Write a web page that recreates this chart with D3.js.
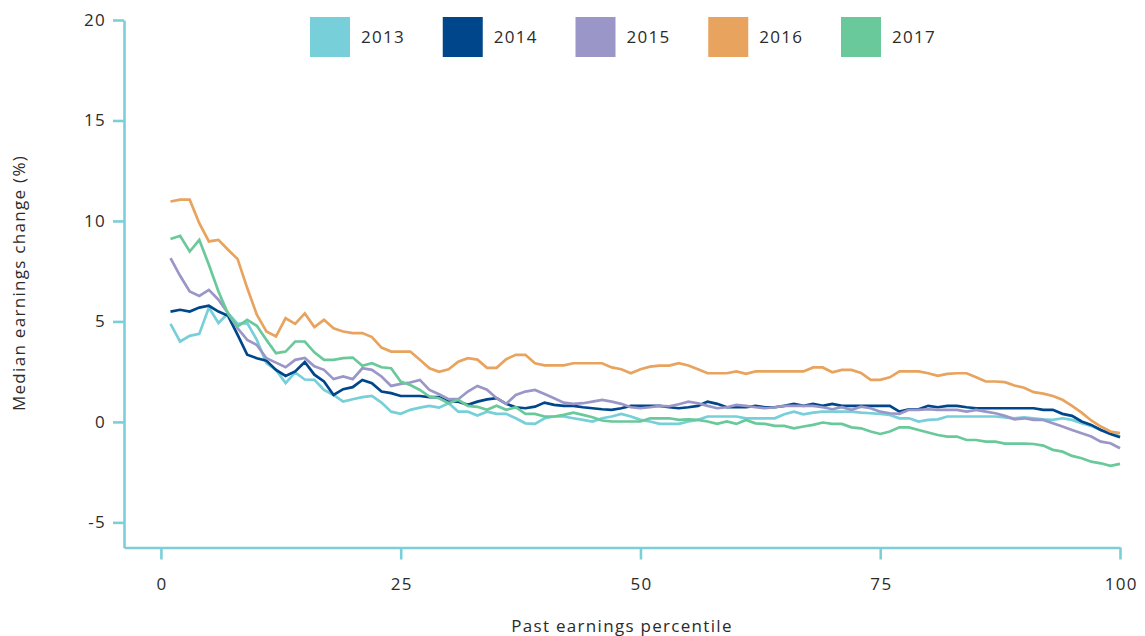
<!DOCTYPE html>
<html>
<head>
<meta charset="utf-8">
<script src="https://cdn.jsdelivr.net/npm/d3@7"></script>
<style>
  html, body { margin: 0; padding: 0; background: #ffffff; }
  svg { display: block; font-family: "Open Sans", "Noto Sans", sans-serif; }
  svg text { letter-spacing: 1.3px; }
</style>
</head>
<body>
<svg id="chart" width="1145" height="636"></svg>
<script>
// Past earnings percentile (x) for every series
const percentiles = [
  1,2,3,4,5,6,7,8,9,10,11,12,13,14,15,16,17,18,19,20,
  21,22,23,24,25,26,27,28,29,30,31,32,33,34,35,36,37,38,39,40,
  41,42,43,44,45,46,47,48,49,50,51,52,53,54,55,56,57,58,59,60,
  61,62,63,64,65,66,67,68,69,70,71,72,73,74,75,76,77,78,79,80,
  81,82,83,84,85,86,87,88,89,90,91,92,93,94,95,96,97,98,99,100
];

const years = ["2013", "2014", "2015", "2016", "2017"];

// Median earnings change (%) by past earnings percentile
const y2013 = [
  4.88,4.00,4.28,4.38,5.69,4.92,5.41,4.88,4.92,4.08,2.92,2.59,1.93,2.46,2.11,2.09,1.59,1.34,1.01,1.13,
  1.23,1.29,0.96,0.51,0.40,0.60,0.71,0.80,0.71,0.93,0.51,0.51,0.32,0.51,0.40,0.40,0.18,-0.07,-0.10,0.18,
  0.27,0.27,0.18,0.10,0.02,0.18,0.27,0.40,0.27,0.10,0.02,-0.10,-0.10,-0.10,0.02,0.10,0.27,0.27,0.27,0.27,
  0.18,0.18,0.18,0.18,0.38,0.51,0.38,0.46,0.51,0.51,0.51,0.51,0.46,0.43,0.40,0.35,0.18,0.18,0.02,0.10,
  0.13,0.27,0.27,0.27,0.27,0.27,0.27,0.23,0.18,0.23,0.18,0.13,0.10,0.18,0.10,-0.07,-0.20,-0.40,-0.53,-0.73
];
const y2014 = [
  5.49,5.58,5.49,5.69,5.78,5.49,5.28,4.33,3.34,3.17,3.05,2.59,2.29,2.51,2.98,2.35,2.01,1.34,1.63,1.73,
  2.09,1.93,1.51,1.43,1.29,1.29,1.29,1.23,1.23,1.01,1.01,0.85,1.01,1.12,1.18,0.90,0.73,0.68,0.76,0.96,
  0.85,0.80,0.80,0.73,0.68,0.63,0.60,0.68,0.80,0.80,0.80,0.80,0.73,0.68,0.73,0.80,1.01,0.90,0.73,0.73,
  0.73,0.80,0.73,0.73,0.80,0.90,0.80,0.90,0.80,0.90,0.80,0.80,0.80,0.80,0.80,0.80,0.51,0.63,0.63,0.80,
  0.73,0.80,0.80,0.73,0.68,0.68,0.68,0.68,0.68,0.68,0.68,0.60,0.60,0.40,0.30,0.02,-0.15,-0.40,-0.60,-0.76
];
const y2015 = [
  8.15,7.27,6.49,6.27,6.57,6.08,5.41,4.66,4.08,3.83,3.17,2.95,2.72,3.09,3.18,2.77,2.59,2.13,2.26,2.13,
  2.67,2.59,2.26,1.79,1.89,1.96,2.09,1.59,1.38,1.13,1.13,1.51,1.79,1.60,1.18,0.90,1.34,1.51,1.59,1.39,
  1.18,0.96,0.90,0.93,1.01,1.10,1.01,0.90,0.73,0.68,0.73,0.80,0.78,0.88,1.01,0.93,0.80,0.68,0.73,0.85,
  0.80,0.73,0.68,0.73,0.80,0.80,0.80,0.80,0.73,0.63,0.73,0.60,0.76,0.68,0.51,0.43,0.40,0.60,0.60,0.63,
  0.60,0.60,0.60,0.51,0.60,0.51,0.43,0.30,0.13,0.18,0.10,0.10,-0.07,-0.23,-0.40,-0.56,-0.73,-0.98,-1.06,-1.31
];
const y2016 = [
  10.97,11.06,11.06,9.89,8.98,9.06,8.57,8.10,6.66,5.33,4.50,4.25,5.16,4.88,5.40,4.72,5.08,4.66,4.50,4.42,
  4.42,4.22,3.70,3.50,3.50,3.50,3.09,2.67,2.49,2.62,3.00,3.17,3.10,2.69,2.69,3.12,3.34,3.34,2.92,2.81,
  2.81,2.81,2.92,2.92,2.92,2.92,2.71,2.62,2.42,2.62,2.75,2.80,2.80,2.92,2.81,2.62,2.42,2.42,2.42,2.51,
  2.39,2.51,2.51,2.51,2.51,2.51,2.51,2.71,2.71,2.47,2.59,2.59,2.44,2.09,2.09,2.22,2.51,2.51,2.51,2.42,
  2.29,2.39,2.42,2.42,2.22,2.01,2.01,1.98,1.81,1.70,1.48,1.41,1.29,1.10,0.80,0.46,0.07,-0.23,-0.48,-0.56
];
const y2017 = [
  9.10,9.26,8.48,9.06,7.82,6.49,5.38,4.75,5.08,4.78,4.08,3.42,3.50,4.00,4.00,3.46,3.09,3.09,3.17,3.20,
  2.79,2.92,2.72,2.67,2.01,1.84,1.59,1.26,1.18,0.93,1.10,0.80,0.75,0.60,0.80,0.60,0.73,0.40,0.40,0.27,
  0.27,0.35,0.46,0.35,0.23,0.07,0.02,0.02,0.02,0.02,0.18,0.18,0.18,0.10,0.13,0.10,0.02,-0.10,0.02,-0.10,
  0.10,-0.07,-0.10,-0.20,-0.20,-0.32,-0.23,-0.15,-0.03,-0.10,-0.10,-0.27,-0.32,-0.48,-0.60,-0.48,-0.27,-0.27,-0.40,-0.53,
  -0.65,-0.73,-0.73,-0.90,-0.90,-0.98,-0.98,-1.08,-1.08,-1.08,-1.10,-1.18,-1.39,-1.48,-1.69,-1.81,-1.98,-2.06,-2.19,-2.09
];

const xTicks = [0, 25, 50, 75, 100];
const yTicks = [-5, 0, 5, 10, 15, 20];

const seriesValues = [y2013, y2014, y2015, y2016, y2017];
const colors = ["#77cfd9", "#00468b", "#9a97c8", "#e8a35e", "#6ac99a"];
const axisColor = "#7bcfd8";
const textColor = "#2b2b2b";

const svg = d3.select("#chart");

const x = d3.scaleLinear().domain([-3.85, 100]).range([124, 1120]);
const y = d3.scaleLinear().domain([-6.25, 20]).range([547.5, 20]);

// Plain hyphen for negative tick values
const tickFmt = d => (d < 0 ? "-" + Math.abs(d) : String(d));

// Axes
const xAxis = svg.append("g")
  .attr("transform", `translate(0,${y(-6.25)})`)
  .call(d3.axisBottom(x).tickValues(xTicks).tickFormat(tickFmt)
    .tickSize(12).tickSizeOuter(0).tickPadding(18));
const yAxis = svg.append("g")
  .attr("transform", `translate(${x(-3.85)},0)`)
  .call(d3.axisLeft(y).tickValues(yTicks).tickFormat(tickFmt)
    .tickSize(11).tickSizeOuter(0).tickPadding(8));

[xAxis, yAxis].forEach(g => {
  g.select(".domain").attr("stroke", axisColor).attr("stroke-width", 2.6);
  g.selectAll(".tick line").attr("stroke", axisColor).attr("stroke-width", 2.6);
  g.selectAll(".tick text")
    .attr("fill", textColor)
    .style("font-size", "17px")
    .style("font-family", "\"Open Sans\", sans-serif");
});
yAxis.selectAll(".tick text").attr("x", -18);
xAxis.selectAll(".tick text").attr("dx", "0.65px");

// Axis titles
svg.append("text")
  .attr("x", 622).attr("y", 632)
  .attr("text-anchor", "middle")
  .attr("fill", textColor)
  .style("font-size", "17px")
  .text("Past earnings percentile");

svg.append("text")
  .attr("transform", "translate(25,283) rotate(-90)")
  .attr("text-anchor", "middle")
  .attr("fill", textColor)
  .style("font-size", "17px")
  .text("Median earnings change (%)");

// Lines
const line = d3.line()
  .x((d, i) => x(percentiles[i]))
  .y(d => y(d));

svg.append("g")
  .selectAll("path")
  .data(seriesValues)
  .join("path")
  .attr("d", d => line(d))
  .attr("fill", "none")
  .attr("stroke", (d, i) => colors[i])
  .attr("stroke-width", 2.7)
  .attr("stroke-linejoin", "miter")
  .attr("stroke-linecap", "butt");

// Legend
const legendX = d3.scalePoint().domain(years).range([310, 841]);
const legend = svg.append("g")
  .selectAll("g")
  .data(years)
  .join("g")
  .attr("transform", d => `translate(${legendX(d)},17)`);

legend.append("rect")
  .attr("width", 40).attr("height", 40)
  .attr("fill", (d, i) => colors[i]);

legend.append("text")
  .attr("x", 51).attr("y", 25.5)
  .attr("fill", textColor)
  .style("font-size", "17px")
  .text(d => d);
</script>
</body>
</html>
